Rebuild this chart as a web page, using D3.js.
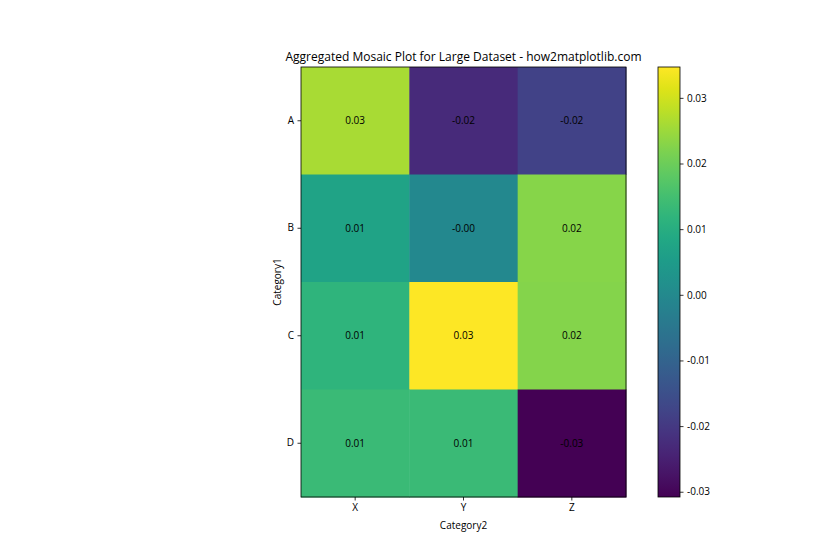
<!DOCTYPE html>
<html>
<head>
<meta charset="utf-8">
<script src="https://cdn.jsdelivr.net/npm/d3@7"></script>
<style>
  body { margin: 0; background: #fff; }
  text { font-family: "Open Sans", "Noto Sans", sans-serif; fill: #000; }
</style>
</head>
<body>
<svg width="840" height="560"></svg>
<script>
const rows = ['A', 'B', 'C', 'D'];
const cols = ['X', 'Y', 'Z'];
// mean values per cell, row by row
const valuesA = [0.0262, -0.0229, -0.0180];
const valuesB = [0.0072, -0.0003, 0.0229];
const valuesC = [0.0118, 0.0347, 0.0226];
const valuesD = [0.0137, 0.0135, -0.0308];
const cbTicks = [-0.03, -0.02, -0.01, 0.00, 0.01, 0.02, 0.03];

const svg = d3.select('svg');
const grid = [valuesA, valuesB, valuesC, valuesD];
const cells = [];
grid.forEach((r, i) => r.forEach((v, j) => cells.push({ row: rows[i], col: cols[j], v: v })));

const margin = { top: 67, left: 301 };
const innerW = 325, innerH = 430;

const x = d3.scaleBand().domain(cols).range([0, innerW]);
const y = d3.scaleBand().domain(rows).range([0, innerH]);
const ext = d3.extent(cells, d => d.v);
const color = d3.scaleSequential(d3.interpolateViridis).domain(ext);

const g = svg.append('g').attr('transform', `translate(${margin.left},${margin.top})`);

g.selectAll('rect.cell')
  .data(cells)
  .enter().append('rect')
  .attr('class', 'cell')
  .attr('x', d => x(d.col))
  .attr('y', d => y(d.row))
  .attr('width', x.bandwidth() + 0.5)
  .attr('height', y.bandwidth() + 0.5)
  .attr('fill', d => color(d.v));

g.selectAll('text.val')
  .data(cells)
  .enter().append('text')
  .attr('class', 'val')
  .attr('x', d => x(d.col) + x.bandwidth() / 2)
  .attr('y', d => y(d.row) + y.bandwidth() / 2)
  .attr('text-anchor', 'middle')
  .attr('dy', '0.35em')
  .style('font-size', '10px')
  .text(d => d.v.toFixed(2));

// frame
g.append('rect').attr('width', innerW).attr('height', innerH)
  .attr('fill', 'none').attr('stroke', '#000').attr('stroke-width', 0.8);

const xAxis = g.append('g').attr('transform', `translate(0,${innerH})`)
  .call(d3.axisBottom(x).tickSize(3.5).tickPadding(3.5));
const yAxis = g.append('g').call(d3.axisLeft(y).tickSize(3.5).tickPadding(3.5));
[xAxis, yAxis].forEach(a => {
  a.select('.domain').remove();
  a.selectAll('text').style('font-size', '10px');
  a.selectAll('line').attr('stroke-width', 0.8);
});

svg.append('text')
  .attr('x', margin.left + innerW / 2).attr('y', 61)
  .attr('text-anchor', 'middle').style('font-size', '12px')
  .text('Aggregated Mosaic Plot for Large Dataset - how2matplotlib.com');

svg.append('text')
  .attr('x', margin.left + innerW / 2).attr('y', 529)
  .attr('text-anchor', 'middle').style('font-size', '10px')
  .text('Category2');

svg.append('text')
  .attr('transform', `translate(281,${margin.top + innerH / 2}) rotate(-90)`)
  .attr('text-anchor', 'middle').style('font-size', '10px')
  .text('Category1');

// colorbar
const cbX = 658, cbW = 22;
const cy = d3.scaleLinear().domain(ext).range([margin.top + innerH, margin.top]);
const defs = svg.append('defs');
const grad = defs.append('linearGradient').attr('id', 'cbgrad')
  .attr('x1', 0).attr('y1', 1).attr('x2', 0).attr('y2', 0);
d3.range(0, 1.0001, 0.05).forEach(t => {
  grad.append('stop').attr('offset', t).attr('stop-color', d3.interpolateViridis(t));
});
svg.append('rect').attr('x', cbX).attr('y', margin.top).attr('width', cbW).attr('height', innerH)
  .attr('fill', 'url(#cbgrad)').attr('stroke', '#000').attr('stroke-width', 0.8);

const cbAxis = svg.append('g').attr('transform', `translate(${cbX + cbW},0)`)
  .call(d3.axisRight(cy).tickValues(cbTicks).tickSize(3.5).tickPadding(3.5)
    .tickFormat(d => d.toFixed(2)));
cbAxis.select('.domain').remove();
cbAxis.selectAll('text').style('font-size', '10px');
cbAxis.selectAll('line').attr('stroke-width', 0.8);
</script>
</body>
</html>
